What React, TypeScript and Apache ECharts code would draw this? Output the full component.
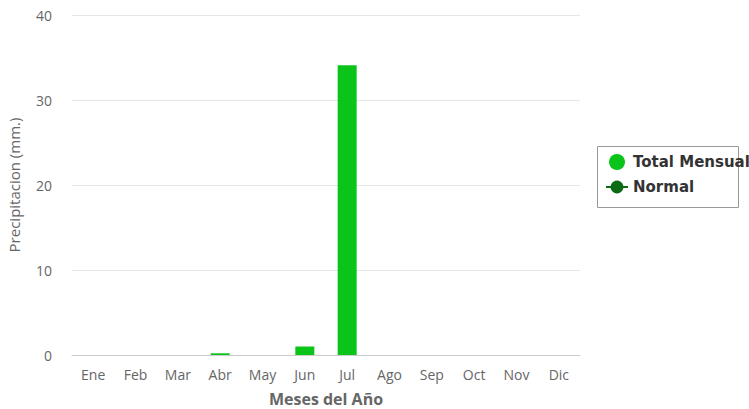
import React, { useEffect, useRef } from "react";
import * as echarts from "echarts";

const months = ["Ene", "Feb", "Mar", "Abr", "May", "Jun", "Jul", "Ago", "Sep", "Oct", "Nov", "Dic"];
const totalMensual = [0, 0, 0, 0.2, 0, 1.0, 34.1, 0, 0, 0, 0, 0];
const normal: (number | null)[] = [null, null, null, null, null, null, null, null, null, null, null, null];
const yTicks = { min: 0, max: 40, interval: 10 };

const FONT = "'Open Sans', 'DejaVu Sans', sans-serif";

export default function App() {
  const ref = useRef<HTMLDivElement>(null);
  useEffect(() => {
    if (!ref.current) return;
    const chart = echarts.init(ref.current, undefined, { renderer: "svg" });
    chart.setOption({
      animation: false,
      backgroundColor: "#ffffff",
      textStyle: { fontFamily: FONT },
      grid: { left: 72, right: 169, top: 15, bottom: 54, containLabel: false, outerBoundsMode: "none" },
      legend: {
        orient: "vertical",
        left: 605,
        top: 154,
        itemWidth: 22,
        itemHeight: 16,
        itemGap: 9,
        padding: 0,
        textStyle: { fontFamily: "'DejaVu Sans', sans-serif", fontWeight: "bold", fontSize: 15, color: "#333333", lineHeight: 16 },
        data: [
          { name: "Total Mensual", icon: "circle" },
          { name: "Normal" },
        ],
      },
      graphic: [
        {
          type: "rect",
          shape: { x: 597.5, y: 146.5, width: 141, height: 61 },
          style: { fill: "none", stroke: "#999999", lineWidth: 1 },
          silent: true,
        },
      ],
      xAxis: {
        type: "category",
        data: months,
        name: "Meses del Año",
        nameLocation: "middle",
        nameGap: 36,
        nameTextStyle: { fontFamily: FONT, fontWeight: "bold", fontSize: 16, color: "#666666" },
        axisLine: { lineStyle: { color: "#cccccc" } },
        axisTick: { show: false },
        axisLabel: { fontFamily: FONT, fontSize: 14, color: "#666666", margin: 12 },
      },
      yAxis: {
        type: "value",
        min: yTicks.min,
        max: yTicks.max,
        interval: yTicks.interval,
        name: "Precipitacion (mm.)",
        nameLocation: "middle",
        nameGap: 51,
        nameRotate: 90,
        nameTextStyle: { fontFamily: FONT, fontSize: 15, color: "#666666" },
        axisLine: { show: false },
        axisTick: { show: false },
        splitLine: { lineStyle: { color: "#e6e6e6" } },
        axisLabel: { fontFamily: FONT, fontSize: 14, color: "#666666", margin: 20 },
      },
      series: [
        {
          name: "Total Mensual",
          type: "bar",
          data: totalMensual,
          barWidth: 19,
          itemStyle: { color: "#0ac41a" },
        },
        {
          name: "Normal",
          type: "line",
          data: normal,
          symbol: "circle",
          symbolSize: 8,
          lineStyle: { color: "#0b6b12", width: 2 },
          itemStyle: { color: "#0b6b12" },
        },
      ],
    });
    return () => chart.dispose();
  }, []);
  return <div ref={ref} style={{ width: 749, height: 409, position: "absolute", left: 0, top: 0 }} />;
}
